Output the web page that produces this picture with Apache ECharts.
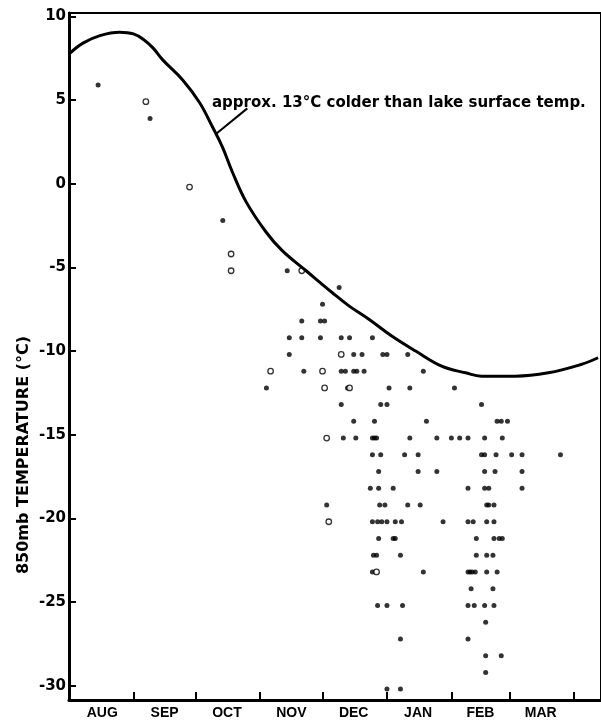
<!DOCTYPE html>
<html>
<head>
<meta charset="utf-8">
<script src="https://cdn.jsdelivr.net/npm/echarts@6/dist/echarts.min.js"></script>
<style>
    html, body { margin: 0; padding: 0; background: #fff; }
    #chart { width: 601px; height: 722px; }
</style>
</head>
<body>
<div id="chart"></div>
<script>
// x = days since 1 Aug, y = 850 mb temperature (°C)
var monthStarts = [31, 61, 92, 122, 153, 184, 212, 243];
var monthMids = [16, 46, 76, 107, 137, 168, 198, 227];
var monthNames = ['AUG', 'SEP', 'OCT', 'NOV', 'DEC', 'JAN', 'FEB', 'MAR'];
var tempTicks = [-30, -25, -20, -15, -10, -5, 0, 5, 10];

// lake surface temp minus ~13°C
var curve = [
    [0.5, 7.8], [6.7, 8.4], [14.9, 8.85], [24.4, 9.05], [31, 8.95], [36, 8.6],
    [40.5, 8.1], [45.1, 7.4], [54.7, 6.2], [62.8, 4.85], [69, 3.4], [73.8, 2.2], [78.6, 0.7],
    [85.3, -1.1], [94.9, -2.9], [102.6, -4.0], [114.1, -5.2], [126.6, -6.5],
    [134.7, -7.3], [144.3, -8.1], [155.3, -9.1], [166.8, -10.0], [179.3, -10.9],
    [190.8, -11.3], [198.5, -11.5], [214.8, -11.5], [230.6, -11.3], [246.4, -10.8],
    [254.6, -10.4]
];

var filledDots = [
    [14, 5.9], [39, 3.9], [74, -2.2],
    [105, -5.2],
    [130, -6.2],
    [122, -7.2],
    [112, -8.2], [121, -8.2], [123, -8.2],
    [106, -9.2], [112, -9.2], [121, -9.2], [131, -9.2], [135, -9.2], [146, -9.2],
    [106, -10.2], [137, -10.2], [141, -10.2], [151, -10.2], [153, -10.2], [163, -10.2],
    [113, -11.2], [131, -11.2], [133, -11.2], [137, -11.2], [138.5, -11.2], [142, -11.2], [170.5, -11.2],
    [95, -12.2], [134, -12.2], [154, -12.2], [164, -12.2], [185.5, -12.2],
    [131, -13.2], [150, -13.2], [153, -13.2], [198.5, -13.2],
    [137, -14.2], [147, -14.2], [172, -14.2], [206, -14.2], [208, -14.2], [211, -14.2],
    [132, -15.2], [138, -15.2], [146, -15.2], [147, -15.2], [148, -15.2], [164, -15.2], [177, -15.2],
    [184, -15.2], [188, -15.2], [192, -15.2], [200, -15.2], [208.5, -15.2],
    [146, -16.2], [150, -16.2], [161.5, -16.2], [168, -16.2], [198.5, -16.2], [200, -16.2],
    [205.5, -16.2], [213, -16.2], [218, -16.2], [236.5, -16.2],
    [149, -17.2], [168, -17.2], [177, -17.2], [200, -17.2], [205, -17.2], [218, -17.2],
    [145, -18.2], [149, -18.2], [156, -18.2], [192, -18.2], [200, -18.2], [202, -18.2], [218, -18.2],
    [124, -19.2], [149.5, -19.2], [152, -19.2], [163, -19.2], [169, -19.2], [201, -19.2], [202, -19.2], [204.5, -19.2],
    [146, -20.2], [148.5, -20.2], [150.5, -20.2], [153, -20.2], [157, -20.2], [160, -20.2],
    [180, -20.2], [192, -20.2], [194.5, -20.2], [201, -20.2], [204.5, -20.2],
    [149, -21.2], [156, -21.2], [157, -21.2], [196, -21.2], [204.5, -21.2], [207, -21.2], [208.5, -21.2],
    [146.5, -22.2], [148, -22.2], [159.5, -22.2], [196, -22.2], [201, -22.2], [204, -22.2],
    [146, -23.2], [170.5, -23.2], [192, -23.2], [193, -23.2], [194, -23.2], [195.5, -23.2], [201, -23.2], [206, -23.2],
    [193.5, -24.2], [204, -24.2],
    [148.5, -25.2], [153, -25.2], [160.5, -25.2], [192, -25.2], [195, -25.2], [200, -25.2], [204.5, -25.2],
    [200.5, -26.2],
    [159.5, -27.2], [192, -27.2],
    [200.5, -28.2], [208, -28.2],
    [200.5, -29.2],
    [153, -30.2], [159.5, -30.2]
];

var openDots = [
    [37, 4.9], [58, -0.2], [78, -4.2], [78, -5.2], [112, -5.2], [131, -10.2],
    [97, -11.2], [122, -11.2], [123, -12.2], [135, -12.2], [124, -15.2], [125, -20.2], [148, -23.2]
];

var chart = echarts.init(document.getElementById('chart'));
chart.setOption({
    animation: false,
    grid: {
        left: 69,
        right: -2,
        top: 13,
        bottom: 22,
        show: true,
        borderColor: '#000',
        borderWidth: 2
    },
    xAxis: {
        type: 'value',
        min: 0,
        max: 256,
        axisLine: { onZero: false, lineStyle: { color: '#000', width: 3 } },
        axisTick: {
            show: true,
            inside: true,
            length: 8,
            customValues: monthStarts,
            lineStyle: { color: '#000', width: 2 }
        },
        axisLabel: {
            customValues: monthMids,
            formatter: function (v) {
                return monthNames[monthMids.indexOf(v)];
            },
            color: '#000',
            fontFamily: 'Liberation Sans',
            fontWeight: 'bold',
            fontSize: 14,
            margin: 6
        },
        splitLine: { show: false }
    },
    yAxis: {
        type: 'value',
        min: -30.85,
        max: 10.2,
        axisLine: { show: true, onZero: false, lineStyle: { color: '#000', width: 3 } },
        axisTick: {
            show: true,
            inside: true,
            length: 7,
            customValues: tempTicks,
            lineStyle: { color: '#000', width: 2 }
        },
        axisLabel: {
            customValues: tempTicks,
            color: '#000',
            fontFamily: 'DejaVu Sans',
            fontWeight: 'bold',
            fontSize: 15,
            margin: 3
        },
        splitLine: { show: false }
    },
    graphic: [
        {
            type: 'text',
            x: 24,
            y: 455,
            rotation: Math.PI / 2,
            style: {
                text: '850mb TEMPERATURE (°C)',
                font: 'bold 16px "DejaVu Sans"',
                fill: '#000',
                textAlign: 'center',
                textVerticalAlign: 'middle',
                align: 'center',
                verticalAlign: 'middle'
            }
        },
        {
            type: 'text',
            x: 212,
            y: 103,
            style: {
                text: 'approx. 13°C colder than lake surface temp.',
                font: 'bold 15px "DejaVu Sans"',
                fill: '#000',
                textVerticalAlign: 'middle',
                verticalAlign: 'middle'
            }
        }
    ],
    series: [
        {
            type: 'line',
            data: curve,
            smooth: 0.4,
            symbol: 'none',
            lineStyle: { color: '#000', width: 3 },
            markLine: {
                silent: true,
                symbol: ['none', 'none'],
                label: { show: false },
                lineStyle: { color: '#000', width: 2, type: 'solid' },
                data: [[{ coord: [85.8, 4.5] }, { coord: [71, 3.0] }]]
            }
        },
        {
            type: 'scatter',
            data: filledDots,
            symbolSize: 5,
            itemStyle: { color: '#000' }
        },
        {
            type: 'scatter',
            data: openDots,
            symbolSize: 5.5,
            itemStyle: { color: '#fff', borderColor: '#000', borderWidth: 1.3 }
        }
    ]
});
</script>
</body>
</html>
